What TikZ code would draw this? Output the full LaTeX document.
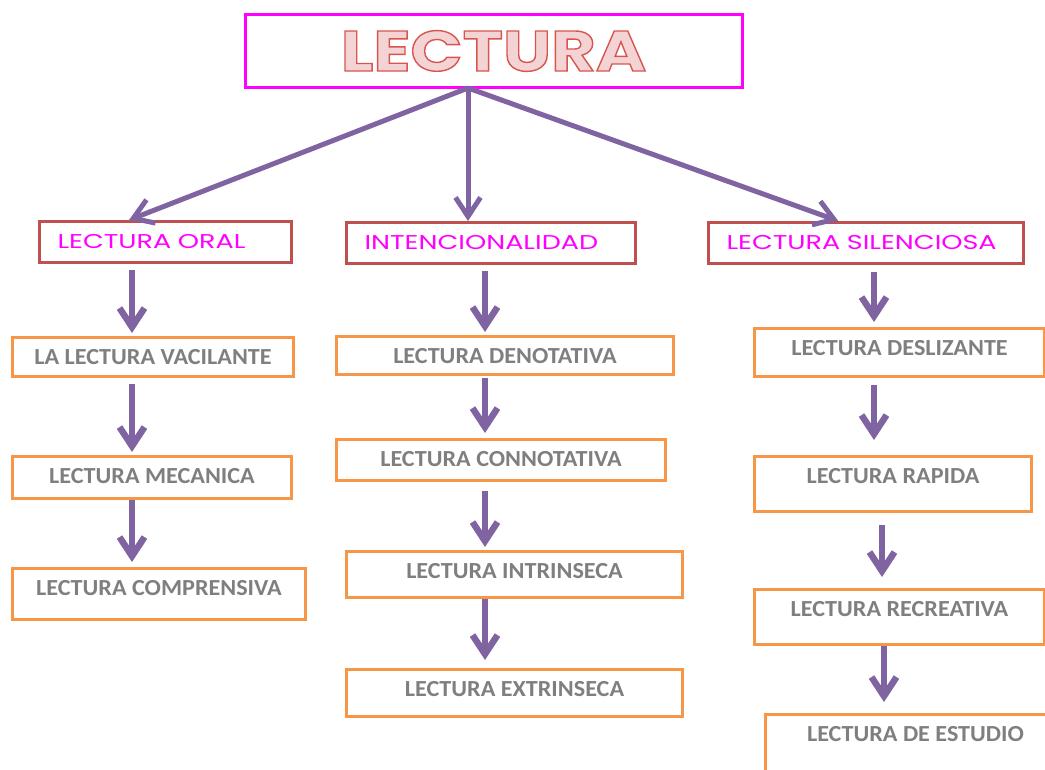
\documentclass[tikz,border=0pt]{standalone}
\usepackage{fontspec}
\usepackage{xcolor}
\usepackage{tikz}
\usetikzlibrary{arrows.meta,positioning,calc}

\newfontfamily\titlefont[FakeStretch=1.2]{Poppins}
\newfontfamily\branchfont[FakeStretch=1.35]{Poppins}
\newfontfamily\leaffont[FakeStretch=1.05]{Carlito}

\definecolor{rosa}{HTML}{FF00FF}
\definecolor{granate}{HTML}{C0504D}
\definecolor{naranja}{HTML}{F79646}
\definecolor{morado}{HTML}{8064A2}
\definecolor{gristexto}{HTML}{7F7F7F}
\definecolor{rosatitulo}{HTML}{F3D3D3}

% letras huecas del titulo (relleno rosa, contorno rojo)
\newcommand{\hueca}[1]{{\color{rosatitulo}\special{pdf:literal direct 2 Tr 1.4 w 0.85 0.33 0.31 RG}#1\special{pdf:literal direct 0 Tr}}}

\begin{document}
\begin{tikzpicture}[x=1pt,y=-1pt,
titlebox/.style={draw=rosa,line width=3pt,minimum width=497pt,minimum height=73pt,inner sep=0pt,font=\titlefont\bfseries\fontsize{57}{60}\selectfont},
branchbox/.style={draw=granate,line width=3pt,anchor=north west,inner xsep=18pt,inner ysep=0pt,minimum height=41pt,text width=#1,align=left,text=rosa,font=\branchfont\fontsize{20}{24}\selectfont},
leafbox/.style 2 args={draw=naranja,line width=3pt,anchor=north west,inner sep=0pt,minimum width=#1,text height=27pt,text depth=#2,text=gristexto,font=\leaffont\bfseries\fontsize{23}{26}\selectfont},
arr/.style={draw=morado,line width=6.5pt,-{Straight Barb[length=19pt,width=25pt]},shorten <=6pt,shorten >=3pt},
toparr/.style={arr,line width=5pt,shorten <=0pt,shorten >=0pt}]
\useasboundingbox (0,0) rectangle (1045,770);
\clip (0,0) rectangle (1045,770);

\node[titlebox](lectura) at (493.5,51){\hueca{LECTURA}};

\node[branchbox=216pt](oral) at (38,220){LECTURA ORAL};
\node[branchbox=253pt](inten) at (345,221){INTENCIONALIDAD};
\node[branchbox=279pt](silen) at (707,221){LECTURA SILENCIOSA};

\node[leafbox={281pt}{12pt}](vacil) at (11,336){LA LECTURA VACILANTE};
\node[leafbox={279pt}{15pt}](mecan) at (11,455){LECTURA MECANICA};
\node[leafbox={293pt}{24pt}](compr) at (11,567){LECTURA COMPRENSIVA};

\node[leafbox={337pt}{11pt}](denot) at (335,335){LECTURA DENOTATIVA};
\node[leafbox={329pt}{14pt}](connot) at (335,438){LECTURA CONNOTATIVA};
\node[leafbox={336pt}{19pt}](intrin) at (345,550){LECTURA INTRINSECA};
\node[leafbox={336pt}{20pt}](extrin) at (345,668){LECTURA EXTRINSECA};

\node[leafbox={290pt}{21pt}](desliz) at (753,327){LECTURA DESLIZANTE};
\node[leafbox={277pt}{28pt}](rapida) at (753,455){LECTURA RAPIDA};
\node[leafbox={290pt}{28pt}](recrea) at (753,588){LECTURA RECREATIVA};
\node[leafbox={300pt}{38pt}](estudio) at (764,713){LECTURA DE ESTUDIO};

\coordinate(hub) at (468,88);
\coordinate(colL) at (132,0);\coordinate(colM) at (485,0);
\coordinate(colR) at (874,0);\coordinate(colRb) at (882,0);\coordinate(colRc) at (884,0);

\draw[toparr](hub)--($(oral.north west)!.357!(oral.north east)$);
\draw[toparr](hub)--(inten.north -| hub);
\draw[toparr](hub)--($(silen.north west)!.413!(silen.north east)$);

\draw[arr](oral.south -| colL)--(vacil.north -| colL);
\draw[arr](vacil.south -| colL)--(mecan.north -| colL);
\draw[arr,shorten <=0pt,shorten >=5pt](mecan.south -| colL)--(compr.north -| colL);

\draw[arr](inten.south -| colM)--(denot.north -| colM);
\draw[arr,shorten <=2pt,shorten >=5pt](denot.south -| colM)--(connot.north -| colM);
\draw[arr,shorten <=9pt](connot.south -| colM)--(intrin.north -| colM);
\draw[arr,shorten <=0pt,shorten >=8pt](intrin.south -| colM)--(extrin.north -| colM);

\draw[arr,shorten <=7pt,shorten >=5pt](silen.south -| colR)--(desliz.north -| colR);
\draw[arr,shorten <=7pt,shorten >=15pt](desliz.south -| colR)--(rapida.north -| colR);
\draw[arr,shorten <=12pt,shorten >=11pt](rapida.south -| colRb)--(recrea.north -| colRb);
\draw[arr,shorten <=0pt,shorten >=11pt](recrea.south -| colRc)--(estudio.north -| colRc);
\end{tikzpicture}
\end{document}
